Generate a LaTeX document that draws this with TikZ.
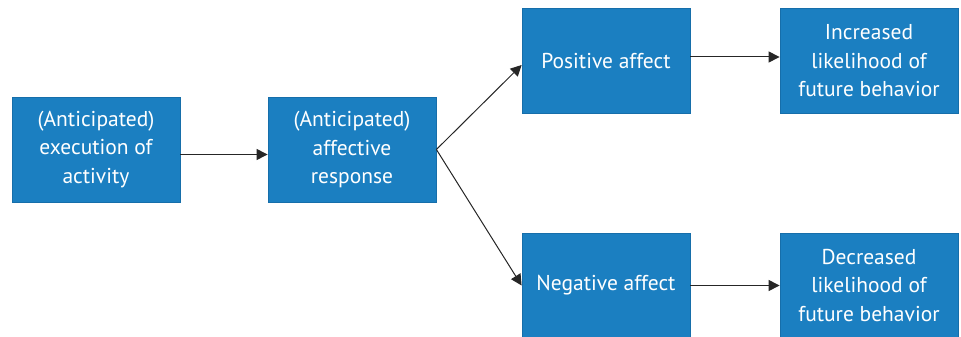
\documentclass[tikz,border=0pt]{standalone}
\usepackage{fontspec}
\setmainfont{PT Sans}
\usetikzlibrary{arrows.meta}
\definecolor{boxblue}{RGB}{27,127,193}
\definecolor{edgeblue}{RGB}{22,110,170}
\tikzset{
  box/.style={draw=edgeblue, line width=0.8pt, fill=boxblue, text=white, inner sep=0pt, align=center,
    font=\fontsize{21.5}{28.5}\selectfont},
  conn/.style={line width=1pt, -{Triangle[length=11pt,width=11pt]}, black!85}
}
\begin{document}
\begin{tikzpicture}[x=1pt,y=-1pt]
\useasboundingbox (0,0) rectangle (961,337);
\node[box, minimum width=168pt, minimum height=105pt] (a) at (96,149.5) {(Anticipated)\\execution of\\activity};
\node[box, minimum width=168pt, minimum height=105pt] (b) at (352,149.5) {(Anticipated)\\affective\\response};
\node[box, minimum width=168pt, minimum height=105pt] (c) at (606,61) {Positive affect};
\node[box, minimum width=168pt, minimum height=105pt] (d) at (606,285.5) {Negative affect};
\node[box, minimum width=178pt, minimum height=105pt] (e) at (869,61) {Increased\\likelihood of\\future behavior};
\node[box, minimum width=178pt, minimum height=105pt] (f) at (869,285.5) {Decreased\\likelihood of\\future behavior};
\draw[conn] ([yshift=-5pt]a.east) -- ([yshift=-5pt]b.west);
\draw[conn] (b.east) -- ([yshift=-4pt]c.west);
\draw[conn] (b.east) -- (d.west);
\draw[conn] ([yshift=4pt]c.east) -- ([yshift=4pt]e.west);
\draw[conn] (d.east) -- (f.west);
\end{tikzpicture}
\end{document}
